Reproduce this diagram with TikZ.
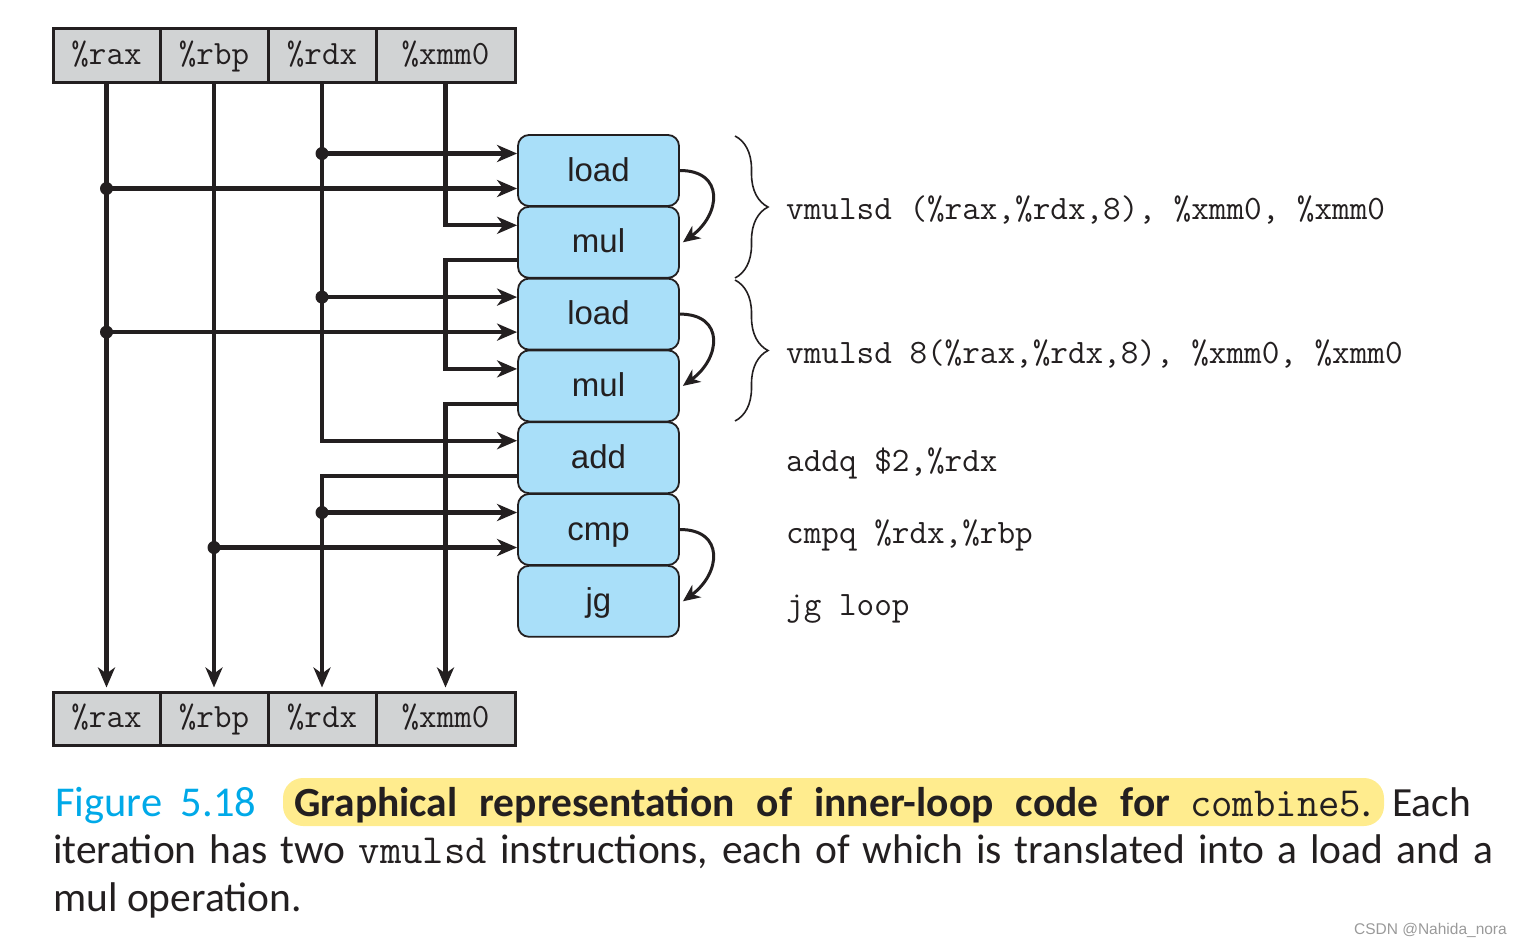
\documentclass[tikz,border=0pt]{standalone}
\usepackage{fontspec}
\setmainfont{Carlito}
\setsansfont{Liberation Sans}
\newfontfamily\wmfont{Liberation Sans}
\usetikzlibrary{arrows.meta,decorations.pathreplacing,calc}
\definecolor{ink}{HTML}{231F20}
\definecolor{reggray}{HTML}{D1D3D4}
\definecolor{opblue}{HTML}{A9DFF9}
\definecolor{figcyan}{HTML}{00A9E8}
\definecolor{hlyellow}{HTML}{FFEC8E}
\definecolor{wmgray}{HTML}{9A9A9A}
\begin{document}
\begin{tikzpicture}[x=1pt,y=-1pt,
  reg/.style={draw=ink,line width=3pt,fill=reggray,minimum height=54pt,inner sep=0pt,
    font=\ttfamily\fontsize{34}{40}\selectfont,text=ink,text height=24pt,text depth=6pt},
  op/.style={draw=ink,line width=1.8pt,fill=opblue,rounded corners=11pt,minimum width=161pt,
    minimum height=71pt,inner sep=0pt,font=\sffamily\fontsize{33}{40}\selectfont,text=ink,
    text height=26pt,text depth=5pt},
  wire/.style={draw=ink,line width=4.3pt},
  arr/.style={-{Stealth[length=20pt,width=17pt,inset=6pt]}},
  dep/.style={draw=ink,line width=3pt,-{Stealth[length=17pt,width=15pt,inset=5pt]}},
  jdot/.style={fill=ink},
  asm/.style={anchor=base west,inner sep=0pt,font=\ttfamily\fontsize{34.2}{40}\selectfont,text=ink},
  brc/.style={draw=ink,line width=1.6pt,decorate,decoration={brace,amplitude=33pt}},
  captext/.style={anchor=base west,inner sep=0pt,font=\fontsize{41.5}{48}\selectfont,text=ink},
  ]
\useasboundingbox (0,0) rectangle (1522,946);

% register rows
\node[reg,minimum width=107pt] (t1) at (106.5,55) {\%rax};
\node[reg,minimum width=108pt] (t2) at (214,55) {\%rbp};
\node[reg,minimum width=108pt] (t3) at (322,55) {\%rdx};
\node[reg,minimum width=139pt] (t4) at (445.5,55) {\%xmm0};
\node[reg,minimum width=107pt,minimum height=53pt] (b1) at (106.5,718.5) {\%rax};
\node[reg,minimum width=108pt,minimum height=53pt] (b2) at (214,718.5) {\%rbp};
\node[reg,minimum width=108pt,minimum height=53pt] (b3) at (322,718.5) {\%rdx};
\node[reg,minimum width=139pt,minimum height=53pt] (b4) at (445.5,718.5) {\%xmm0};

% operations
\node[op] (load1) at (598.5,170.5) {load};
\node[op] (mul1) at (598.5,242.3) {mul};
\node[op] (load2) at (598.5,314.1) {load};
\node[op] (mul2) at (598.5,385.9) {mul};
\node[op] (add) at (598.5,457.7) {add};
\node[op] (cmp) at (598.5,529.5) {cmp};
\node[op] (jg) at (598.5,601.3) {jg};

% ports
\foreach \n/\p in {load1/L1,mul1/M1,load2/L2,mul2/M2,add/A,cmp/C}{
  \coordinate (\p u) at ($(\n.west)+(0,-17)$);
  \coordinate (\p d) at ($(\n.west)+(0,18)$);
}
% junctions
\coordinate (ra1) at (t1.south |- L1d);
\coordinate (ra2) at (t1.south |- L2d);
\coordinate (rd1) at (t3.south |- L1u);
\coordinate (rd2) at (t3.south |- L2u);
\coordinate (rd3) at (t3.south |- Ad);
\coordinate (rd4) at (t3.south |- Cu);
\coordinate (rb1) at (t2.south |- Cd);
\coordinate (xm1) at (t4.south |- M1d);
\coordinate (xm2) at (t4.south |- M2d);

% wires
\draw[wire,arr,shorten >=3pt] (t1.south) -- (b1.north);
\draw[wire,arr,shorten >=3pt] (t2.south) -- (b2.north);
\draw[wire,arr] (t3.south) |- (Au);
\draw[wire,arr] (t4.south) |- (M1u);
\draw[wire,arr] (rd1) -- (L1u);
\draw[wire,arr] (ra1) -- (L1d);
\draw[wire,arr] (M1d) -- (xm1) |- (M2u);
\draw[wire,arr] (rd2) -- (L2u);
\draw[wire,arr] (ra2) -- (L2d);
\draw[wire,arr,shorten >=3pt] (M2d) -- (xm2) -- (b4.north);
\draw[wire,arr,shorten >=3pt] (Ad) -- (rd3) -- (b3.north);
\draw[wire,arr] (rd4) -- (Cu);
\draw[wire,arr] (rb1) -- (Cd);
\foreach \j in {ra1,ra2,rd1,rd2,rd4,rb1} \fill[jdot] (\j) circle (6.5pt);

% dependency arcs
\draw[dep] (load1.east) .. controls +(45,0) and +(38,-28) .. ([xshift=3pt]mul1.east);
\draw[dep] (load2.east) .. controls +(45,0) and +(38,-28) .. ([xshift=3pt]mul2.east);
\draw[dep] (cmp.east) .. controls +(45,0) and +(38,-28) .. ([xshift=3pt]jg.east);

% braces and assembly
\draw[brc] (735,136) -- (735,278);
\draw[brc] (735,280) -- (735,421);
\node[asm] (a1) at (786,219) {vmulsd (\%rax,\%rdx,8), \%xmm0, \%xmm0};
\node[asm] (a2) at (786,363) {vmulsd 8(\%rax,\%rdx,8), \%xmm0, \%xmm0};
\node[asm] (a3) at (786,471) {addq \$2,\%rdx};
\node[asm] (a4) at (786,543) {cmpq \%rdx,\%rbp};
\node[asm] (a5) at (786,615) {jg loop};

% caption
\fill[hlyellow,rounded corners=20pt] (283,778) rectangle (1384,826);
\node[captext,text=figcyan] (c1a) at (55,816) {\makebox[201pt][s]{\fontsize{42.5}{48}\selectfont Figure 5.18}};
\node[captext] (c1b) at (294,816) {\makebox[876pt][s]{\bfseries Graphical representation of inner-loop code for}};
\node[captext] (c1c) at (1190,816) {\texttt{combine5}.};
\node[captext,anchor=base east] (c1d) at (1471,816) {Each};
\node[captext] (c2) at (53,863) {\makebox[1440pt][s]{iteration has two \texttt{vmulsd} instructions, each of which is translated into a load and a}};
\node[captext] (c3) at (53,911) {mul operation.};
\node[anchor=base east,inner sep=0pt,font=\wmfont\fontsize{15.5}{18}\selectfont,text=wmgray] (wm) at (1507,934) {CSDN @Nahida\_nora};
\end{tikzpicture}
\end{document}
